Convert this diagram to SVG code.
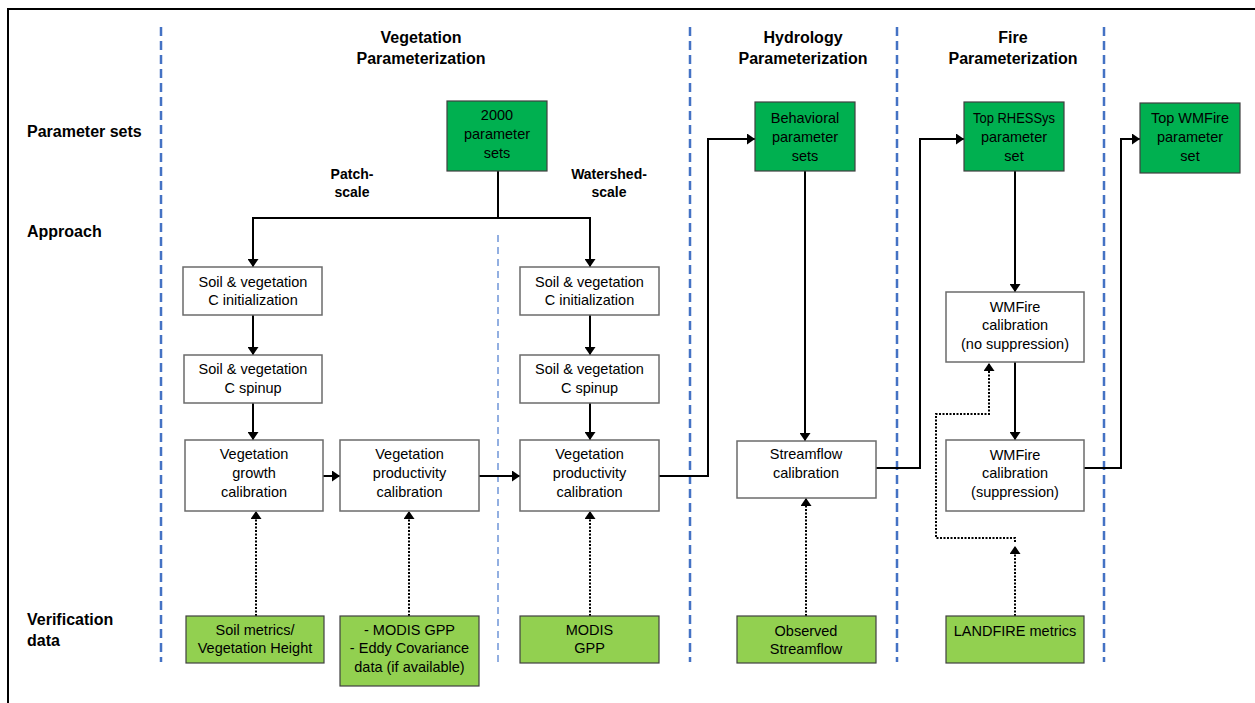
<svg xmlns="http://www.w3.org/2000/svg" width="1255" height="703" viewBox="0 0 1255 703">
<style>
text{font-family:"Liberation Sans",Arial,sans-serif;fill:#000;text-anchor:middle}
.t{font-size:14.5px}
.h{font-size:16px;font-weight:bold}
.l{font-size:16px;font-weight:bold;text-anchor:start}
.s{font-size:14px;font-weight:bold}
.wb{fill:#fff;stroke:#6b6b6b;stroke-width:1.5}
.dg{fill:#00B050;stroke:#404040;stroke-width:1.2}
.lg{fill:#92D050;stroke:#404040;stroke-width:1.2}
.sep{stroke:#4472C4;stroke-width:2.5;stroke-dasharray:9 5;fill:none}
.sep2{stroke:#6f95d8;stroke-width:1.5;stroke-dasharray:7 5;fill:none}
.c{fill:none;stroke:#000;stroke-width:2}
.d{fill:none;stroke:#000;stroke-width:2;stroke-dasharray:2 1.5}
</style>
<defs>
<marker id="ah" viewBox="0 0 8 11" refX="8" refY="5.5" markerWidth="8" markerHeight="11" markerUnits="userSpaceOnUse" orient="auto">
<path d="M0,0 L8,5.5 L0,11 z" fill="#000"/>
</marker>
</defs>
<rect width="1255" height="703" fill="#fff"/>
<path d="M8,703 V9 H1255" fill="none" stroke="#000" stroke-width="2"/>
<g id="separators">
<line class="sep" x1="161" y1="27" x2="161" y2="662"/>
<line class="sep" x1="690" y1="27" x2="690" y2="662"/>
<line class="sep" x1="897" y1="27" x2="897" y2="662"/>
<line class="sep" x1="1104" y1="27" x2="1104" y2="662"/>
<line class="sep2" x1="498" y1="235" x2="498" y2="663"/>
</g>
<g id="labels">
<text class="l" x="27" y="137">Parameter sets</text>
<text class="l" x="27" y="237">Approach</text>
<text class="l" x="27" y="625">Verification</text>
<text class="l" x="27" y="646">data</text>
<text class="h" x="421" y="43">Vegetation</text>
<text class="h" x="421" y="64">Parameterization</text>
<text class="h" x="803" y="43">Hydrology</text>
<text class="h" x="803" y="64">Parameterization</text>
<text class="h" x="1013" y="43">Fire</text>
<text class="h" x="1013" y="64">Parameterization</text>
<text class="s" x="352" y="179">Patch-</text>
<text class="s" x="352" y="197">scale</text>
<text class="s" x="609" y="179">Watershed-</text>
<text class="s" x="609" y="197">scale</text>
</g>
<g id="connectors">
<path class="c" d="M498,171 V218"/>
<path class="c" d="M498,218 H253 V267" marker-end="url(#ah)"/>
<path class="c" d="M498,218 H590 V267" marker-end="url(#ah)"/>
<path class="c" d="M253,315 V355" marker-end="url(#ah)"/>
<path class="c" d="M253,403 V440" marker-end="url(#ah)"/>
<path class="c" d="M590,315 V355" marker-end="url(#ah)"/>
<path class="c" d="M590,403 V440" marker-end="url(#ah)"/>
<path class="c" d="M323,476 H340" marker-end="url(#ah)"/>
<path class="c" d="M479,476 H520" marker-end="url(#ah)"/>
<path class="c" d="M659,476 H708 V139 H755" marker-end="url(#ah)"/>
<path class="c" d="M805,171 V441" marker-end="url(#ah)"/>
<path class="c" d="M876,468 H920 V139 H964" marker-end="url(#ah)"/>
<path class="c" d="M1015,171 V292" marker-end="url(#ah)"/>
<path class="c" d="M1015,362 V440" marker-end="url(#ah)"/>
<path class="c" d="M1084,468 H1121 V139 H1140" marker-end="url(#ah)"/>
<path class="d" d="M256,616 V511" marker-end="url(#ah)"/>
<path class="d" d="M409,616 V511" marker-end="url(#ah)"/>
<path class="d" d="M590,616 V511" marker-end="url(#ah)"/>
<path class="d" d="M806,616 V498" marker-end="url(#ah)"/>
<path class="d" d="M1015,616 V546" marker-end="url(#ah)"/>
<path class="d" d="M1015,542 V538 H936 V414 H989 V363" marker-end="url(#ah)" stroke-width="1.6"/>
</g>
<g id="n2000"><rect class="dg" x="447" y="101" width="100" height="70"/><text class="t" x="497" y="120">2000</text><text class="t" x="497" y="139">parameter</text><text class="t" x="497" y="158">sets</text></g>
<g id="nBehav"><rect class="dg" x="755" y="102" width="100" height="69"/><text class="t" x="805" y="123">Behavioral</text><text class="t" x="805" y="142">parameter</text><text class="t" x="805" y="161">sets</text></g>
<g id="nTopRhessys"><rect class="dg" x="964" y="102" width="100" height="69"/><text class="t" x="1014" y="123" textLength="82" lengthAdjust="spacingAndGlyphs">Top RHESSys</text><text class="t" x="1014" y="142">parameter</text><text class="t" x="1014" y="161">set</text></g>
<g id="nTopWMFire"><rect class="dg" x="1140" y="103" width="100" height="70"/><text class="t" x="1190" y="123" textLength="78" lengthAdjust="spacingAndGlyphs">Top WMFire</text><text class="t" x="1190" y="142">parameter</text><text class="t" x="1190" y="161">set</text></g>
<g id="nPInit"><rect class="wb" x="183" y="267" width="139" height="48"/><text class="t" x="253" y="287">Soil &amp; vegetation</text><text class="t" x="253" y="305">C initialization</text></g>
<g id="nPSpin"><rect class="wb" x="184" y="355" width="138" height="48"/><text class="t" x="253" y="374">Soil &amp; vegetation</text><text class="t" x="253" y="393">C spinup</text></g>
<g id="nPGrowth"><rect class="wb" x="185" y="440" width="138" height="71"/><text class="t" x="254" y="459">Vegetation</text><text class="t" x="254" y="478">growth</text><text class="t" x="254" y="497">calibration</text></g>
<g id="nPProd"><rect class="wb" x="340" y="440" width="139" height="71"/><text class="t" x="409.5" y="459">Vegetation</text><text class="t" x="409.5" y="478">productivity</text><text class="t" x="409.5" y="497">calibration</text></g>
<g id="nWInit"><rect class="wb" x="520" y="267" width="139" height="48"/><text class="t" x="589.5" y="287">Soil &amp; vegetation</text><text class="t" x="589.5" y="305">C initialization</text></g>
<g id="nWSpin"><rect class="wb" x="520" y="355" width="139" height="48"/><text class="t" x="589.5" y="374">Soil &amp; vegetation</text><text class="t" x="589.5" y="393">C spinup</text></g>
<g id="nWProd"><rect class="wb" x="520" y="440" width="139" height="71"/><text class="t" x="589.5" y="459">Vegetation</text><text class="t" x="589.5" y="478">productivity</text><text class="t" x="589.5" y="497">calibration</text></g>
<g id="nStream"><rect class="wb" x="737" y="441" width="139" height="57"/><text class="t" x="806" y="459">Streamflow</text><text class="t" x="806" y="478">calibration</text></g>
<g id="nFireNoSup"><rect class="wb" x="946" y="292" width="138" height="70"/><text class="t" x="1015" y="312">WMFire</text><text class="t" x="1015" y="330">calibration</text><text class="t" x="1015" y="349">(no suppression)</text></g>
<g id="nFireSup"><rect class="wb" x="946" y="440" width="138" height="71"/><text class="t" x="1015" y="460">WMFire</text><text class="t" x="1015" y="478">calibration</text><text class="t" x="1015" y="497">(suppression)</text></g>
<g id="vSoil"><rect class="lg" x="186" y="616" width="138" height="47"/><text class="t" x="255" y="635">Soil metrics/</text><text class="t" x="255" y="653">Vegetation Height</text></g>
<g id="vModisEddy"><rect class="lg" x="340" y="616" width="139" height="70"/><text class="t" x="409.5" y="635">- MODIS GPP</text><text class="t" x="409.5" y="653">- Eddy Covariance</text><text class="t" x="409.5" y="672">data (if available)</text></g>
<g id="vModis"><rect class="lg" x="520" y="616" width="139" height="47"/><text class="t" x="589.5" y="635">MODIS</text><text class="t" x="589.5" y="653">GPP</text></g>
<g id="vStream"><rect class="lg" x="737" y="616" width="139" height="47"/><text class="t" x="806" y="636">Observed</text><text class="t" x="806" y="654">Streamflow</text></g>
<g id="vLandfire"><rect class="lg" x="946" y="616" width="138" height="47"/><text class="t" x="1015" y="636">LANDFIRE metrics</text></g>
</svg>
